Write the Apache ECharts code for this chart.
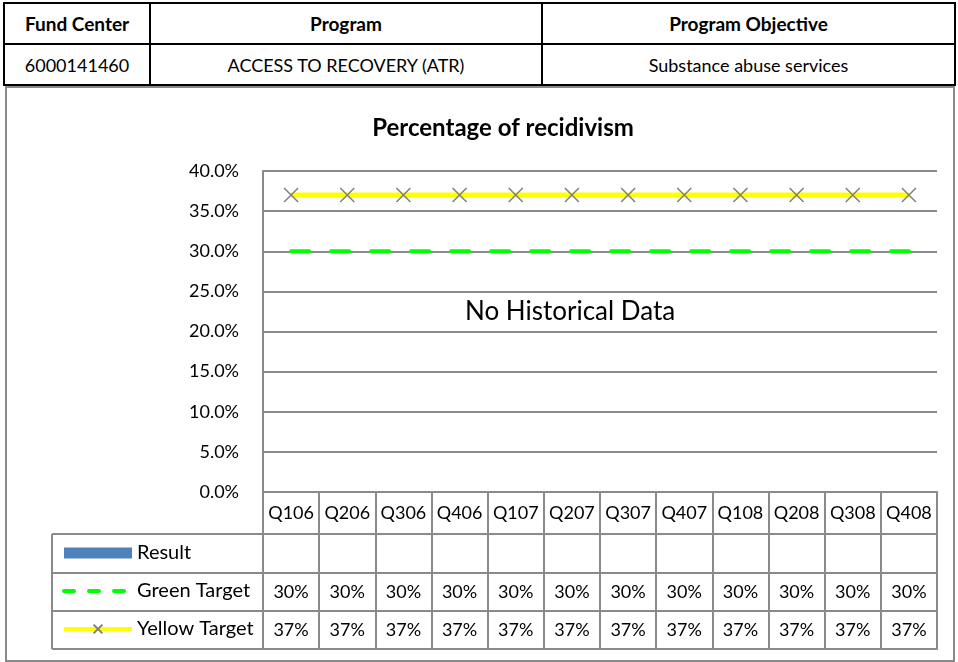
<!DOCTYPE html>
<html>
<head>
<meta charset="utf-8">
<script src="https://cdn.jsdelivr.net/npm/echarts@6/dist/echarts.min.js"></script>
<style>
  html, body { margin: 0; padding: 0; background: #fff; overflow: hidden; }
  #chart { position: absolute; left: 0; top: 0; width: 958px; height: 662px; }
  #hdr {
    position: absolute; left: 3px; top: 2px; z-index: 2; background: #fff;
    border-collapse: collapse; width: 953px; table-layout: fixed;
    font-family: Lato, "Liberation Sans", sans-serif; font-size: 18px; color: #000;
  }
  #hdr th, #hdr td { border: 2px solid #000; height: 39px; padding: 0; text-align: center; }
  #hdr th { font-weight: bold; font-size: 19px; }
</style>
</head>
<body>
<table id="hdr">
  <tr><th style="width:144px">Fund Center</th><th style="width:390px">Program</th><th>Program Objective</th></tr>
  <tr><td>6000141460</td><td>ACCESS TO RECOVERY (ATR)</td><td>Substance abuse services</td></tr>
</table>
<div id="chart"></div>
<script>
  // chart data
  const quarters = ['Q106', 'Q206', 'Q306', 'Q406', 'Q107', 'Q207', 'Q307', 'Q407', 'Q108', 'Q208', 'Q308', 'Q408'];
  const resultValues = [null, null, null, null, null, null, null, null, null, null, null, null];
  const greenTarget = [0.30, 0.30, 0.30, 0.30, 0.30, 0.30, 0.30, 0.30, 0.30, 0.30, 0.30, 0.30];
  const yellowTarget = [0.37, 0.37, 0.37, 0.37, 0.37, 0.37, 0.37, 0.37, 0.37, 0.37, 0.37, 0.37];
  const yMin = 0, yMax = 0.40, yStep = 0.05;

  const gray = '#8a8a8a';
  const font = 'Lato';
  const pct = v => (v == null ? '' : Math.round(v * 100) + '%');

  // one x axis per row of the data table under the plot
  function rowAxis (offset, tickLen, margin, values) {
    return {
      type: 'category',
      data: quarters,
      position: 'bottom',
      offset: offset,
      axisLine: { show: true, lineStyle: { color: gray, width: 2 } },
      axisTick: { show: tickLen > 0, interval: 0, length: tickLen, lineStyle: { color: gray, width: 2 } },
      axisLabel: {
        show: !!values, interval: 0, margin: margin, color: '#000', fontSize: 18, fontFamily: font,
        formatter: (v, i) => values === quarters ? v : pct(values[i])
      },
      splitLine: { show: false }
    }
  }

  const chart = echarts.init(document.getElementById('chart'))
  const option = {
    animation: false,
    title: {
      text: 'Percentage of recidivism',
      left: 498, top: 111, textAlign: 'center',
      textStyle: { fontFamily: font, fontSize: 24, fontWeight: 'bold', color: '#000' }
    },
    grid: { left: 263, top: 171, width: 674, height: 321, containLabel: false },
    legend: {
      orient: 'vertical',
      left: 57, top: 538,
      itemWidth: 68, itemHeight: 11, itemGap: 18,
      lineStyle: { width: 4 },
      textStyle: { fontFamily: font, fontSize: 20, lineHeight: 20, color: '#000' },
      data: [
        { name: 'Result', icon: 'rect' },
        { name: 'Green Target', itemStyle: { opacity: 0 }, lineStyle: { type: [10, 15], cap: 'round' } },
        'Yellow Target'
      ]
    },
    xAxis: [
      rowAxis(0, 42, 12, quarters),
      rowAxis(42, 39, 10, resultValues),
      rowAxis(81, 38, 10, greenTarget),
      rowAxis(119, 38, 10, yellowTarget),
      rowAxis(157, 0, 10, null)
    ],
    yAxis: {
      type: 'value',
      min: yMin, max: yMax, interval: yStep,
      axisLine: { show: true, lineStyle: { color: gray, width: 2 } },
      axisTick: { show: false },
      splitLine: { lineStyle: { color: gray, width: 2 } },
      axisLabel: {
        margin: 24, color: '#000', fontSize: 18, fontFamily: font,
        formatter: v => (v * 100).toFixed(1) + '%'
      }
    },
    series: [
      {
        name: 'Result', type: 'bar', data: resultValues,
        itemStyle: { color: '#4f81bd' }
      },
      {
        name: 'Green Target', type: 'line', data: greenTarget,
        symbol: 'none',
        itemStyle: { color: '#00ff00' },
        lineStyle: { color: '#00ff00', width: 4, type: [18, 22], cap: 'round' }
      },
      {
        name: 'Yellow Target', type: 'line', data: yellowTarget,
        symbol: 'path://M0,0L10,10M10,0L0,10', symbolSize: 14,
        itemStyle: { color: '#7f7f7f', borderColor: '#7f7f7f', borderWidth: 1.5 },
        lineStyle: { color: '#ffff00', width: 5 }
      }
    ],
    graphic: [
      // outer frame of the chart
      { type: 'rect', shape: { x: 6, y: 87, width: 948, height: 574 }, style: { fill: 'none', stroke: gray, lineWidth: 2 }, z: 0 },
      // legend column of the data table
      { type: 'line', shape: { x1: 52, y1: 534, x2: 263, y2: 534 }, style: { stroke: gray, lineWidth: 2 } },
      { type: 'line', shape: { x1: 52, y1: 573, x2: 263, y2: 573 }, style: { stroke: gray, lineWidth: 2 } },
      { type: 'line', shape: { x1: 52, y1: 611, x2: 263, y2: 611 }, style: { stroke: gray, lineWidth: 2 } },
      { type: 'line', shape: { x1: 52, y1: 649, x2: 263, y2: 649 }, style: { stroke: gray, lineWidth: 2 } },
      { type: 'line', shape: { x1: 52, y1: 534, x2: 52, y2: 649 }, style: { stroke: gray, lineWidth: 2 } },
      {
        type: 'text', x: 465, y: 312,
        style: { text: 'No Historical Data', fontFamily: font, fontSize: 26, fill: '#000', verticalAlign: 'middle' }
      }
    ]
  }
  chart.setOption(option)
</script>
</body>
</html>
